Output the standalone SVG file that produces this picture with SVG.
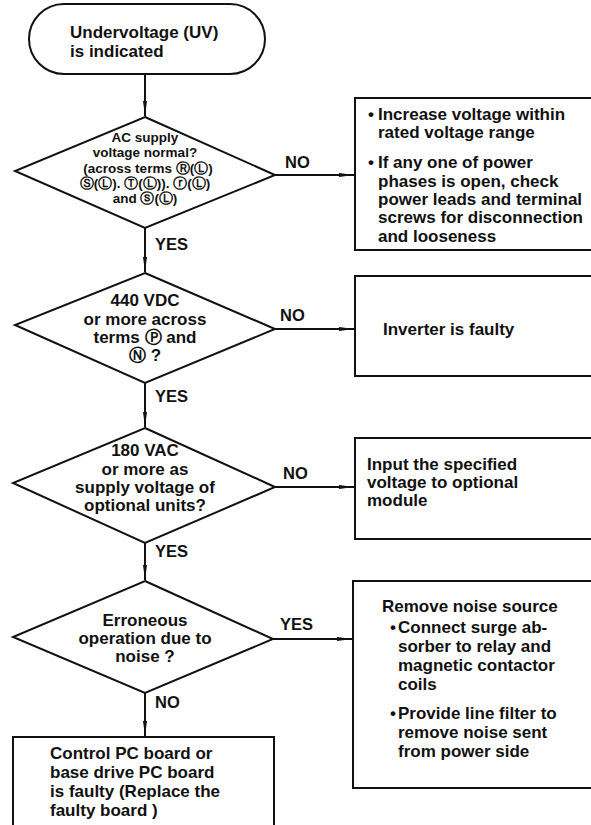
<svg xmlns="http://www.w3.org/2000/svg" width="591" height="825" viewBox="0 0 591 825">
<style>
  .shape { fill: #fff; stroke: #111; stroke-width: 2; }
  .line { fill: none; stroke: #111; stroke-width: 2; }
  text { font-family: "Liberation Sans", Arial, "DejaVu Sans", sans-serif; font-weight: bold; fill: #111; }
  .t { font-size: 17px; }
  .l { font-size: 16.5px; }
  .s { font-size: 13.5px; }
  .c { text-anchor: middle; }
</style>
<defs>
  <marker id="arrow" markerUnits="userSpaceOnUse" markerWidth="16" markerHeight="6" refX="15" refY="3" orient="auto">
    <path d="M0,1 L15,3 L0,5 z" fill="#111"/>
  </marker>
</defs>
<rect width="591" height="825" fill="#fff"/>

<g id="connectors">
  <line class="line" x1="145" y1="74" x2="145" y2="116" marker-end="url(#arrow)"/>
  <line class="line" x1="145" y1="228" x2="145" y2="272" marker-end="url(#arrow)"/>
  <line class="line" x1="145" y1="383" x2="145" y2="427" marker-end="url(#arrow)"/>
  <line class="line" x1="145" y1="543" x2="145" y2="580" marker-end="url(#arrow)"/>
  <line class="line" x1="145" y1="693" x2="145" y2="736" marker-end="url(#arrow)"/>
  <line class="line" x1="275" y1="175" x2="354" y2="175" marker-end="url(#arrow)"/>
  <line class="line" x1="275" y1="329" x2="354" y2="329" marker-end="url(#arrow)"/>
  <line class="line" x1="275" y1="487" x2="354" y2="487" marker-end="url(#arrow)"/>
  <line class="line" x1="273" y1="639" x2="352" y2="639" marker-end="url(#arrow)"/>
  <text class="l" x="155" y="250">YES</text>
  <text class="l" x="155" y="402">YES</text>
  <text class="l" x="155" y="557">YES</text>
  <text class="l" x="155" y="708">NO</text>
  <text class="l" x="285" y="168">NO</text>
  <text class="l" x="280" y="321">NO</text>
  <text class="l" x="283" y="479">NO</text>
  <text class="l" x="280" y="630">YES</text>
</g>

<g id="n-start">
  <rect class="shape" x="29" y="4" width="236" height="70" rx="35" ry="35"/>
  <text class="t" x="70" y="38">Undervoltage (UV)</text>
  <text class="t" x="70" y="57">is indicated</text>
</g>

<g id="n-d1">
  <polygon class="shape" points="145,117 275,175 145,228 15,171"/>
  <text class="s c" x="145" y="142">AC supply</text>
  <text class="s c" x="145" y="157">voltage normal?</text>
  <text class="s c" x="148" y="173">(across terms  Ⓡ(Ⓛ)</text>
  <text class="s c" x="145" y="188">Ⓢ(Ⓛ). Ⓣ(Ⓛ)). ⓡ(Ⓛ)</text>
  <text class="s c" x="145" y="203">and ⓢ(Ⓛ)</text>
</g>

<g id="n-b1">
  <rect class="shape" x="355" y="98" width="250" height="152"/>
  <text class="t" x="368" y="120">•</text>
  <text class="t" x="378" y="120">Increase voltage within</text>
  <text class="t" x="378" y="138">rated voltage range</text>
  <text class="t" x="368" y="168">•</text>
  <text class="t" x="378" y="168">If any one of power</text>
  <text class="t" x="378" y="187">phases is open, check</text>
  <text class="t" x="378" y="205">power leads and terminal</text>
  <text class="t" x="378" y="223">screws for disconnection</text>
  <text class="t" x="378" y="242">and looseness</text>
</g>

<g id="n-d2">
  <polygon class="shape" points="145,273 275,329 145,383 15,325"/>
  <text class="t c" x="145" y="306">440 VDC</text>
  <text class="t c" x="145" y="325">or more across</text>
  <text class="t c" x="145" y="343">terms Ⓟ and</text>
  <text class="t c" x="145" y="361">Ⓝ ?</text>
</g>

<g id="n-b2">
  <rect class="shape" x="355" y="276" width="250" height="100"/>
  <text class="t" x="383" y="335">Inverter is faulty</text>
</g>

<g id="n-d3">
  <polygon class="shape" points="145,428 275,487 145,543 13,483"/>
  <text class="t c" x="145" y="456">180 VAC</text>
  <text class="t c" x="145" y="475">or more as</text>
  <text class="t c" x="145" y="493">supply voltage of</text>
  <text class="t c" x="145" y="511">optional units?</text>
</g>

<g id="n-b3">
  <rect class="shape" x="355" y="438" width="250" height="101"/>
  <text class="t" x="367" y="470">Input the specified</text>
  <text class="t" x="367" y="488">voltage to optional</text>
  <text class="t" x="367" y="506">module</text>
</g>

<g id="n-d4">
  <polygon class="shape" points="145,581 273,639 145,693 13,637"/>
  <text class="t c" x="145" y="626">Erroneous</text>
  <text class="t c" x="145" y="644">operation due to</text>
  <text class="t c" x="145" y="662">noise ?</text>
</g>

<g id="n-b4">
  <rect class="shape" x="353" y="581" width="250" height="207"/>
  <text class="t" x="382" y="612">Remove noise source</text>
  <text class="t" x="390" y="633">•</text>
  <text class="t" x="398" y="633">Connect surge ab-</text>
  <text class="t" x="398" y="652">sorber to relay and</text>
  <text class="t" x="398" y="671">magnetic contactor</text>
  <text class="t" x="398" y="690">coils</text>
  <text class="t" x="390" y="719">•</text>
  <text class="t" x="398" y="719">Provide line filter to</text>
  <text class="t" x="398" y="738">remove noise sent</text>
  <text class="t" x="398" y="757">from power side</text>
</g>

<g id="n-b5">
  <rect class="shape" x="13" y="737" width="261" height="100"/>
  <text class="t" x="50" y="759">Control PC board or</text>
  <text class="t" x="50" y="778">base drive PC board</text>
  <text class="t" x="50" y="797">is faulty  (Replace the</text>
  <text class="t" x="50" y="816">faulty board )</text>
</g>
</svg>
